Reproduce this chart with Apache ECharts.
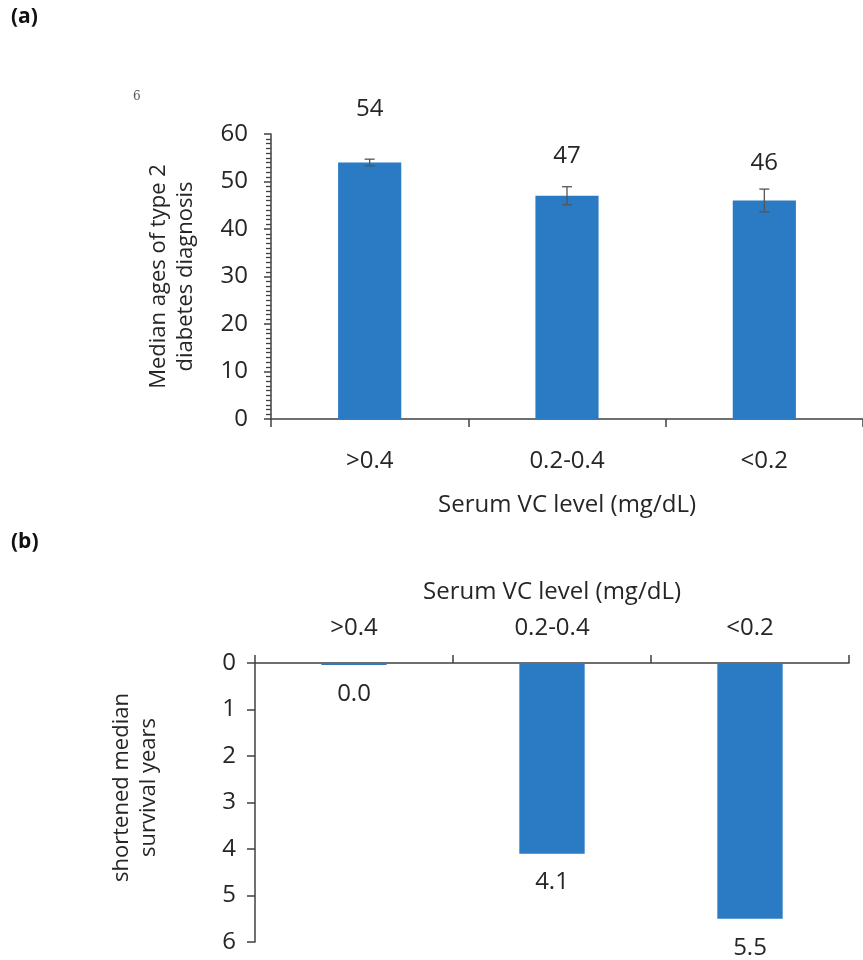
<!DOCTYPE html>
<html>
<head>
<meta charset="utf-8">
<script src="https://cdn.jsdelivr.net/npm/echarts@6/dist/echarts.min.js"></script>
<style>
html,body{margin:0;padding:0;background:#fff;}
#chart{width:863px;height:960px;}
</style>
</head>
<body>
<div id="chart"></div>
<script>
const categories = ['>0.4', '0.2-0.4', '<0.2'];
const medianAges = [54, 47, 46];
const ageErrors = [0.7, 1.9, 2.4];
const shortenedYears = [0.045, 4.1, 5.5];
const topYTicks = [0, 10, 20, 30, 40, 50, 60];
const bottomYTicks = [0, 1, 2, 3, 4, 5, 6];

const FONT = '"Open Sans"';
const FS = 22;
const FSH = 24;
const BLUE = '#2a7bc3';
const AXIS = '#404040';
const TXT = '#262626';

const chart = echarts.init(document.getElementById('chart'));

const errData = medianAges.map((v, i) => [i, v - ageErrors[i], v + ageErrors[i]]);

const option = {
  backgroundColor: '#fff',
  animation: false,
  textStyle: { fontFamily: FONT },
  graphic: [
    { type: 'text', left: 11, top: 7, style: { text: '(a)', font: 'bold 21px ' + FONT, fill: '#111' } },
    { type: 'text', left: 11, top: 532, style: { text: '(b)', font: 'bold 21px ' + FONT, fill: '#111' } },
    { type: 'text', left: 133, top: 91, style: { text: '6', font: '12px "DejaVu Serif"', fill: '#555' } }
  ],
  grid: [
    { left: 271, top: 134, width: 597, height: 285 },
    { left: 255, top: 663, width: 594, height: 279 }
  ],
  xAxis: [
    {
      type: 'category', gridIndex: 0, data: categories,
      name: 'Serum VC level (mg/dL)', nameLocation: 'middle', nameGap: 74,
      nameTextStyle: { fontSize: FSH, color: TXT, fontFamily: FONT },
      axisLine: { lineStyle: { color: AXIS, width: 1.5 } },
      axisTick: { show: true, length: 8, lineStyle: { color: AXIS, width: 1.5 } },
      axisLabel: { fontSize: FSH, color: TXT, margin: 30, fontFamily: FONT }
    },
    {
      type: 'category', gridIndex: 1, data: categories, position: 'top',
      name: 'Serum VC level (mg/dL)', nameLocation: 'middle', nameGap: 59,
      nameTextStyle: { fontSize: FSH, color: TXT, fontFamily: FONT },
      axisLine: { lineStyle: { color: AXIS, width: 1.5 } },
      axisTick: { show: true, length: 8, lineStyle: { color: AXIS, width: 1.5 } },
      axisLabel: { fontSize: FSH, color: TXT, margin: 23, fontFamily: FONT }
    }
  ],
  yAxis: [
    {
      type: 'value', gridIndex: 0, min: topYTicks[0], max: topYTicks[topYTicks.length - 1], interval: topYTicks[1] - topYTicks[0],
      name: 'Median ages of type 2\ndiabetes diagnosis', nameLocation: 'middle', nameRotate: 90, nameGap: 72,
      nameTextStyle: { fontSize: FS, color: TXT, fontFamily: FONT, lineHeight: 27 },
      axisLine: { show: true, lineStyle: { color: AXIS, width: 1.5 } },
      axisTick: { show: true, length: 7, lineStyle: { color: AXIS, width: 1.5 } },
      minorTick: { show: true, splitNumber: 10, length: 5, lineStyle: { color: AXIS, width: 1.3 } },
      splitLine: { show: false },
      axisLabel: { fontSize: FSH, color: TXT, margin: 23, fontFamily: FONT }
    },
    {
      type: 'value', gridIndex: 1, inverse: true, min: bottomYTicks[0], max: bottomYTicks[bottomYTicks.length - 1], interval: bottomYTicks[1] - bottomYTicks[0],
      name: 'shortened median\nsurvival years', nameLocation: 'middle', nameRotate: 90, nameGap: 93,
      nameTextStyle: { fontSize: FS, color: TXT, fontFamily: FONT, lineHeight: 27, padding: [0, 0, 0, 30] },
      axisLine: { show: true, lineStyle: { color: AXIS, width: 1.5 } },
      axisTick: { show: true, length: 8, lineStyle: { color: AXIS, width: 1.5 } },
      splitLine: { show: false },
      axisLabel: { fontSize: FSH, color: TXT, margin: 19, fontFamily: FONT }
    }
  ],
  series: [
    {
      type: 'bar', xAxisIndex: 0, yAxisIndex: 0, barWidth: '32%',
      itemStyle: { color: BLUE },
      data: medianAges.map((v, i) => ({
        value: v,
        label: { distance: [41, 28, 25][i] }
      })),
      label: { show: true, position: 'top', fontSize: FSH, color: TXT, fontFamily: FONT }
    },
    {
      type: 'custom', xAxisIndex: 0, yAxisIndex: 0, z: 5,
      data: errData,
      renderItem: function (params, api) {
        const x = api.value(0);
        const lo = api.coord([x, api.value(1)]);
        const hi = api.coord([x, api.value(2)]);
        const w = 5;
        const st = { stroke: '#555', lineWidth: 1.3 };
        return {
          type: 'group',
          children: [
            { type: 'line', shape: { x1: hi[0], y1: hi[1], x2: lo[0], y2: lo[1] }, style: st },
            { type: 'line', shape: { x1: hi[0] - w, y1: hi[1], x2: hi[0] + w, y2: hi[1] }, style: st },
            { type: 'line', shape: { x1: lo[0] - w, y1: lo[1], x2: lo[0] + w, y2: lo[1] }, style: st }
          ]
        };
      }
    },
    {
      type: 'bar', xAxisIndex: 1, yAxisIndex: 1, barWidth: '33%',
      itemStyle: { color: BLUE },
      data: shortenedYears,
      label: {
        show: true, position: 'bottom', distance: 17, fontSize: FSH, color: TXT, fontFamily: FONT,
        formatter: p => p.value.toFixed(1)
      }
    }
  ]
};

chart.setOption(option);
</script>
</body>
</html>
